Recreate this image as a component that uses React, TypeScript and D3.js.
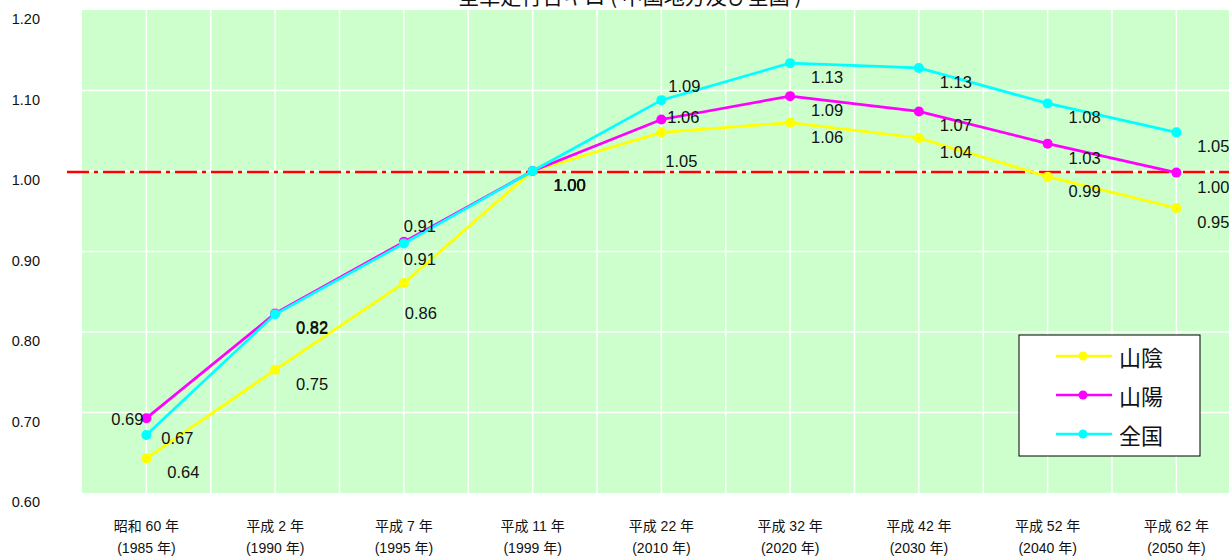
import * as d3 from "d3";
import React from "react";

const categories = [
  ["昭和 60 年", "(1985 年)"],
  ["平成 2 年", "(1990 年)"],
  ["平成 7 年", "(1995 年)"],
  ["平成 11 年", "(1999 年)"],
  ["平成 22 年", "(2010 年)"],
  ["平成 32 年", "(2020 年)"],
  ["平成 42 年", "(2030 年)"],
  ["平成 52 年", "(2040 年)"],
  ["平成 62 年", "(2050 年)"],
];
const years = ["1985", "1990", "1995", "1999", "2010", "2020", "2030", "2040", "2050"];

const sanin = [0.643, 0.753, 0.861, 1.0, 1.048, 1.06, 1.041, 0.993, 0.954];
const sanyo = [0.693, 0.823, 0.912, 1.0, 1.064, 1.093, 1.074, 1.034, 0.998];
const zenkoku = [0.672, 0.822, 0.91, 1.0, 1.088, 1.134, 1.128, 1.084, 1.048];

const yTicks = [0.6, 0.7, 0.8, 0.9, 1.0, 1.1, 1.2];

const title = "全車走行台キロ ( 中国地方及び全国 )";

type Series = { name: string; values: number[]; color: string; key: string };
const series: Series[] = [
  { name: "山陰", values: sanin, color: "#ffff00", key: "sanin" },
  { name: "山陽", values: sanyo, color: "#ff00ff", key: "sanyo" },
  { name: "全国", values: zenkoku, color: "#00ffff", key: "zenkoku" },
];

// label offsets that differ from the default (right, below)
const labelNudge: Record<string, [number, number]> = {
  "sanin-2": [17, 30],
  "sanin-4": [20, 29],
  "sanyo-0": [-19, 1],
  "sanyo-2": [16, -16],
  "sanyo-4": [22, -2],
  "zenkoku-0": [31, 3],
  "zenkoku-2": [16, 16],
  "zenkoku-4": [23, -14],
};

const width = 1229;
const height = 557;
const plot = { left: 82, top: 10, bottom: 493, step: 128.75 };
const numFont = "Arial, 'Liberation Sans', sans-serif";
const mixFont = "Arial, 'Liberation Sans', 'Noto Sans CJK JP', sans-serif";
const jpFont = "'Noto Sans CJK JP', sans-serif";

export default function App() {
  const ref = React.useRef<SVGSVGElement | null>(null);

  React.useEffect(() => {
    if (!ref.current) return;
    const svg = d3.select(ref.current);
    svg.selectAll("*").remove();

    const x = d3
      .scalePoint<string>()
      .domain(years)
      .range([plot.left, plot.left + plot.step * years.length])
      .padding(0.5);
    const y = d3.scaleLinear().domain([0.6, 1.2]).range([plot.bottom, plot.top]);

    svg
      .append("rect")
      .attr("x", plot.left)
      .attr("y", plot.top)
      .attr("width", width - plot.left)
      .attr("height", plot.bottom - plot.top)
      .attr("fill", "#ccffcc");

    // vertical grid: at categories and between them
    const gx: number[] = [];
    years.forEach((yr) => {
      gx.push(x(yr)!);
      gx.push(x(yr)! - plot.step / 2);
    });
    svg
      .append("g")
      .selectAll("line")
      .data(gx.filter((v) => v > plot.left + 1))
      .join("line")
      .attr("x1", (d) => d)
      .attr("x2", (d) => d)
      .attr("y1", plot.top)
      .attr("y2", plot.bottom)
      .attr("stroke", "#fff")
      .attr("stroke-width", 1.5);

    svg
      .append("g")
      .selectAll("line")
      .data(yTicks.filter((t) => t > 0.6 && t < 1.2))
      .join("line")
      .attr("x1", plot.left)
      .attr("x2", width)
      .attr("y1", (d) => y(d))
      .attr("y2", (d) => y(d))
      .attr("stroke", "#fff")
      .attr("stroke-width", 1.5);

    // y tick labels
    svg
      .append("g")
      .selectAll("text")
      .data(yTicks)
      .join("text")
      .attr("x", 40)
      .attr("y", (d) => y(d) + 9)
      .attr("text-anchor", "end")
      .attr("dominant-baseline", "central")
      .attr("font-family", numFont)
      .attr("font-size", 14.5)
      .attr("fill", "#111")
      .text((d) => d.toFixed(2));

    // x labels
    const xl = svg
      .append("g")
      .selectAll("g")
      .data(categories)
      .join("g")
      .attr("transform", (_d, i) => `translate(${x(years[i])},0)`);
    xl.append("text")
      .attr("y", 531)
      .attr("text-anchor", "middle")
      .attr("font-family", mixFont)
      .attr("font-size", 14)
      .attr("fill", "#111")
      .text((d) => d[0]);
    xl.append("text")
      .attr("y", 553)
      .attr("text-anchor", "middle")
      .attr("font-family", mixFont)
      .attr("font-size", 14)
      .attr("fill", "#111")
      .text((d) => d[1]);

    // reference line at 1.00
    svg
      .append("line")
      .attr("x1", 67)
      .attr("x2", width)
      .attr("y1", y(1.0) + 1)
      .attr("y2", y(1.0) + 1)
      .attr("stroke", "#ff0000")
      .attr("stroke-width", 2.5)
      .attr("stroke-dasharray", "22 5 4 5");

    const line = d3
      .line<number>()
      .x((_d, i) => x(years[i])!)
      .y((d) => y(d));

    series.forEach((s) => {
      svg
        .append("path")
        .attr("d", line(s.values))
        .attr("fill", "none")
        .attr("stroke", s.color)
        .attr("stroke-width", 2.7);
      svg
        .append("g")
        .selectAll("circle")
        .data(s.values)
        .join("circle")
        .attr("cx", (_d, i) => x(years[i])!)
        .attr("cy", (d) => y(d))
        .attr("r", 5)
        .attr("fill", s.color);
    });

    series.forEach((s) => {
      svg
        .append("g")
        .selectAll("text")
        .data(s.values)
        .join("text")
        .attr("x", (_d, i) => x(years[i])! + (labelNudge[`${s.key}-${i}`] || [37, 14])[0])
        .attr("y", (d, i) => y(d) + (labelNudge[`${s.key}-${i}`] || [37, 14])[1])
        .attr("text-anchor", "middle")
        .attr("dominant-baseline", "central")
        .attr("font-family", numFont)
        .attr("font-size", 16.5)
        .attr("fill", "#111")
        .text((d) => d.toFixed(2));
    });

    // title (partly cut off at top, as in the source)
    svg
      .append("text")
      .attr("x", 630)
      .attr("y", 4)
      .attr("text-anchor", "middle")
      .attr("font-family", jpFont)
      .attr("font-size", 21)
      .attr("fill", "#111")
      .text(title);

    // legend
    const lg = svg.append("g").attr("transform", "translate(1019,335)");
    lg.append("rect")
      .attr("width", 181)
      .attr("height", 121)
      .attr("fill", "#fff")
      .attr("stroke", "#000")
      .attr("stroke-width", 1);
    const items = lg
      .selectAll("g")
      .data(series)
      .join("g")
      .attr("transform", (_d, i) => `translate(0,${21 + i * 39})`);
    items
      .append("line")
      .attr("x1", 37)
      .attr("x2", 93)
      .attr("stroke", (d) => d.color)
      .attr("stroke-width", 2.5);
    items
      .append("circle")
      .attr("cx", 64)
      .attr("r", 4.5)
      .attr("fill", (d) => d.color);
    items
      .append("text")
      .attr("x", 100)
      .attr("dominant-baseline", "central")
      .attr("font-family", jpFont)
      .attr("font-size", 22)
      .attr("fill", "#111")
      .text((d) => d.name);
  }, []);

  return (
    <svg
      ref={ref}
      width={width}
      height={height}
      style={{ position: "absolute", left: 0, top: 0, background: "#fff", overflow: "hidden" }}
    />
  );
}
